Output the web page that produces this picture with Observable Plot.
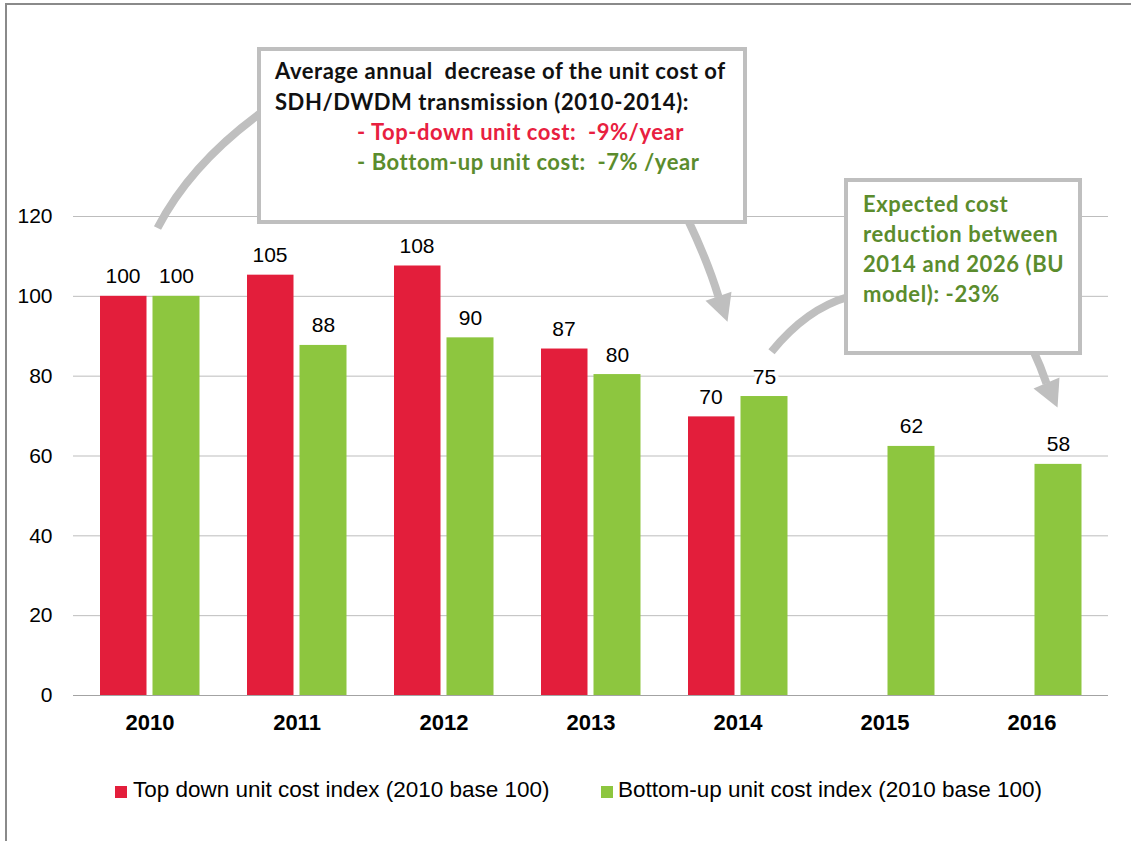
<!DOCTYPE html>
<html><head><meta charset="utf-8">
<script src="https://cdn.jsdelivr.net/npm/d3@7"></script>
<script src="https://cdn.jsdelivr.net/npm/@observablehq/plot@0.6"></script>
<style>
html,body{margin:0;padding:0;background:#fff;}
#wrap{position:relative;width:1131px;height:841px;overflow:hidden;background:#fff;font-family:"Liberation Sans",Arial,sans-serif;}
#frame{position:absolute;left:5px;top:3px;width:1200px;height:900px;border-left:2px solid #8a8a8a;border-top:2px solid #8a8a8a;}
#chart{position:absolute;left:0;top:0;}
#overlay{position:absolute;left:0;top:0;}
.legtext{position:absolute;font-size:22.5px;line-height:25px;color:#000;white-space:nowrap;}
.sw{position:absolute;width:12px;height:12px;}
</style></head><body>
<div id="wrap">
  <div id="frame"></div>
  <div id="chart"></div>
  <svg id="overlay" width="1131" height="841"></svg>
  <div id="legend"></div>
</div>
<script>
// ---- data ----
const years = ["2010", "2011", "2012", "2013", "2014", "2015", "2016"];
const topDown = [100, 105.3, 107.6, 86.8, 69.8, null, null];
const bottomUp = [100, 87.7, 89.6, 80.4, 74.9, 62.4, 57.9];
const yTicks = [0, 20, 40, 60, 80, 100, 120];
const seriesNames = ["Top down unit cost index (2010 base 100)", "Bottom-up unit cost index (2010 base 100)"];
const seriesColors = ["#E31E3B", "#8DC63F"];
const note1Lines = [
  "Average annual  decrease of the unit cost of",
  "SDH/DWDM transmission (2010-2014):",
  "- Top-down unit cost:  -9%/year",
  "- Bottom-up unit cost:  -7% /year"
];
const note2Lines = ["Expected cost", "reduction between", "2014 and 2026 (BU", "model): -23%"];

// ---- tables ----
const red = years.map((year, i) => ({year, value: topDown[i]})).filter(d => d.value != null);
const green = years.map((year, i) => ({year, value: bottomUp[i]})).filter(d => d.value != null);
const fmt = d3.format(".0f");

const chart = Plot.plot({
  width: 1131,
  height: 760,
  marginLeft: 73,
  marginRight: 23,
  marginTop: 216,
  marginBottom: 65,
  style: {fontFamily: "'Liberation Sans', Arial, sans-serif", fontSize: "21px", color: "#000", background: "transparent"},
  x: {domain: years, padding: 0, label: null},
  y: {domain: [0, 120], label: null},
  marks: [
    Plot.ruleY(yTicks.filter(t => t > 0), {stroke: "#bdbdbd", strokeWidth: 1}),
    Plot.barY(red, {x: "year", y: "value", fill: seriesColors[0], insetLeft: 24, insetRight: 76.5}),
    Plot.barY(green, {x: "year", y: "value", fill: seriesColors[1], insetLeft: 76.5, insetRight: 23.5}),
    Plot.ruleY([0], {stroke: "#a3a3a3", strokeWidth: 1.2}),
    Plot.text(red, {x: "year", y: "value", text: d => fmt(d.value), dx: -27, dy: -13, lineAnchor: "bottom", fontSize: 21, fill: "#000", stroke: "white", strokeWidth: 7}),
    Plot.text(green, {x: "year", y: "value", text: d => fmt(d.value), dx: 26.5, dy: -13, lineAnchor: "bottom", fontSize: 21, fill: "#000", stroke: "white", strokeWidth: 7}),
    Plot.axisY({ticks: yTicks, tickSize: 0, tickPadding: 21, fontSize: 21, label: null}),
    Plot.axisX({tickSize: 0, tickPadding: 19, fontSize: 22, fontWeight: "bold", label: null})
  ]
});
document.getElementById("chart").appendChild(chart);

// ---- annotations (anchored to the chart's scales) ----
const xs = chart.scale("x"), ys = chart.scale("y");
const cx = yr => xs.apply(yr) + xs.bandwidth / 2;
const ov = d3.select("#overlay");
const grey = "#bfbfbf";

function curve(p0, c, p2) {
  ov.append("path").attr("d", `M${p0[0]},${p0[1]}Q${c[0]},${c[1]} ${p2[0]},${p2[1]}`)
    .attr("fill", "none").attr("stroke", grey).attr("stroke-width", 8).attr("stroke-linecap", "butt");
}
function head(tip, a, b) {
  ov.append("path").attr("d", `M${tip[0]},${tip[1]}L${a[0]},${a[1]}L${b[0]},${b[1]}Z`).attr("fill", grey);
}

// arrow 1: box 1 -> 2010
{
  const p0 = [cx("2010") + 8, ys.apply(117)];
  curve(p0, [p0[0] + 33, p0[1] - 64], [262, 112]);
}
// arrow 2: box 1 -> 2014
{
  const tip = [cx("2014") - 10, ys.apply(93.5)];
  const base = [tip[0] - 9, tip[1] - 25];
  curve([688, 220], [708, 262], base);
  head(tip, [tip[0] - 22, tip[1] - 21], [tip[0] + 4, tip[1] - 30]);
}
// arrow 3: 2014 -> box 2
{
  const p0 = [cx("2014") + 34, ys.apply(86)];
  curve(p0, [p0[0] + 35, p0[1] - 43], [848, 297]);
}
// arrow 4: box 2 -> 2016
{
  const tip = [cx("2016") + 26, ys.apply(72)];
  const base = [tip[0] - 11, tip[1] - 24];
  curve([1033, 350], [1041, 367], base);
  head(tip, [tip[0] - 24, tip[1] - 19], [tip[0] + 2, tip[1] - 30]);
}

// boxes
ov.append("rect").attr("x", 259).attr("y", 49).attr("width", 486).attr("height", 173)
  .attr("fill", "white").attr("stroke", grey).attr("stroke-width", 4);
ov.append("rect").attr("x", 846).attr("y", 180).attr("width", 234).attr("height", 173)
  .attr("fill", "white").attr("stroke", grey).attr("stroke-width", 4);

const noteFont = "Lato, 'Open Sans', sans-serif";
const note1Colors = ["#111", "#111", "#E8203F", "#5B8C2D"];
const note1X = [275, 275, 357, 357];
const note1Y = [79, 110, 140, 170];
note1Lines.forEach((t, i) => {
  ov.append("text").attr("x", note1X[i]).attr("y", note1Y[i]).text(t)
    .attr("font-family", noteFont).attr("font-weight", 700).attr("font-size", 22)
    .attr("letter-spacing", 0.55)
    .attr("fill", note1Colors[i]).style("white-space", "pre");
});
note2Lines.forEach((t, i) => {
  ov.append("text").attr("x", 863).attr("y", 212 + 30 * i).text(t)
    .attr("font-family", noteFont).attr("font-weight", 700).attr("font-size", 22)
    .attr("letter-spacing", 0.6)
    .attr("fill", "#5B8C2D").style("white-space", "pre");
});

// ---- legend (below the chart SVG) ----
const leg = document.getElementById("legend");
const legX = [[115, 133], [601, 618]];
seriesNames.forEach((name, i) => {
  const sw = document.createElement("div");
  sw.className = "sw";
  sw.style.left = legX[i][0] + "px";
  sw.style.top = "786px";
  sw.style.background = seriesColors[i];
  leg.appendChild(sw);
  const tx = document.createElement("div");
  tx.className = "legtext";
  tx.style.left = legX[i][1] + "px";
  tx.style.top = "776.5px";
  tx.textContent = name;
  leg.appendChild(tx);
});
</script>
</body></html>
